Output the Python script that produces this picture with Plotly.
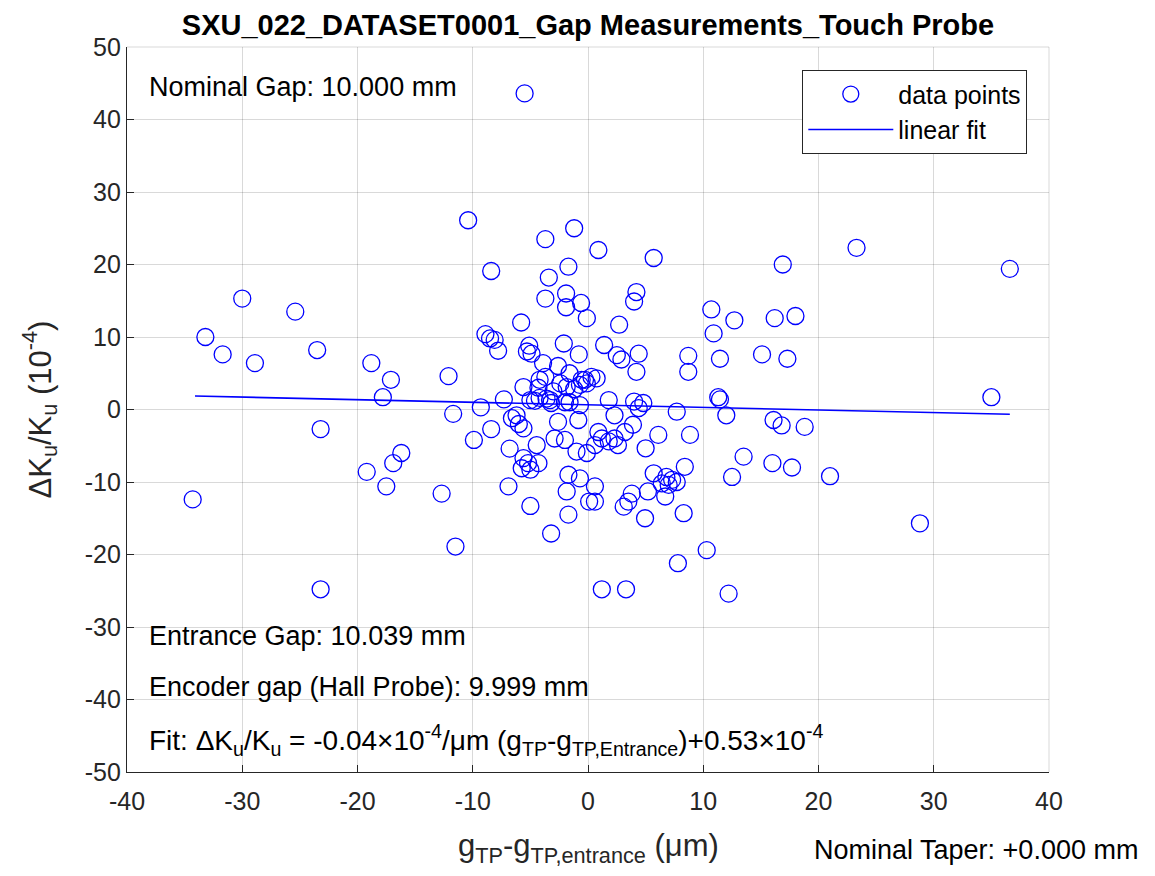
import plotly.graph_objects as go

# data points (x: g_TP - g_TP,entrance in um ; y: dK/K in 1e-4)
x_vals = [-34.3, -33.2, -31.7, -30.0, -28.9, -25.4, -23.5, -23.2, -23.2, -18.8,
          -19.2, -17.8, -17.5, -17.1, -16.9, -16.2, -12.7, -12.1, -11.7, -11.5,
          -10.4, -9.9, -9.3, -8.9, -8.5, -8.1, -7.8, -8.4, -8.4, -7.3,
          -6.8, -6.9, -6.6, -6.2, -6.0, -5.6, -5.5, -5.8, -5.6, -5.1,
          -5.3, -4.9, -5.6, -5.2, -4.3, -5.75, -5.0, -5.0, -4.45, -3.7,
          -3.4, -3.7, -3.9, -3.2, -1.2, -1.7, -1.9, -1.9, -0.6, -0.1,
          -2.1, -0.8, -2.6, -1.6, -0.55, -0.1, 0.3, 0.75, -2.6, -0.84,
          -2.9, -2.0, -1.0, -0.1, -1.7, -0.7, -1.85, 0.1, -1.7, 0.9,
          1.4, 2.5, 2.9, 4.4, 4.2, 2.7, 4.2, 4.0, 5.7, 1.8,
          4.0, 4.8, 4.4, 2.3, 6.1, 5.0, 3.9, 3.2, 0.9, 1.2,
          1.8, 2.3, 2.6, 0.6, 8.85, 8.4, 5.7, 6.8, 7.3, 7.7,
          6.4, 7.0, 5.2, 3.8, 3.5, 3.1, 6.7, 0.6, 0.6, 4.95,
          8.3, 10.3, 7.8, 1.2, 3.3, 12.2, 12.5, 13.5, 7.7, 8.7,
          8.7, 10.7, 10.9, 12.7, 11.45, 11.3, 11.45, 12.0, 15.1, 16.2,
          18.0, 17.3, 16.9, 16.1, 16.8, 18.8, 16.0, 17.7, 21.0, 23.3,
          28.8, 35.0, 36.6, -4.3, -3.6, -3.0, -2.4, -1.2, -3.7, -4.6,
          -2.0, -3.2, -4.2, -1.85, -0.7, -0.26, -5.0, -4.2, -3.3, -1.6,
          -0.7]
y_vals = [-12.4, 10.0, 7.6, 15.3, 6.4, 13.5, 8.2, -2.7, -24.8, 6.4,
          -8.6, 1.7, -10.6, 4.1, -7.4, -6.0, -11.6, 4.6, -0.6, -18.9,
          26.1, -4.2, 0.3, 10.4, 9.8, 9.6, 8.1, 19.1, -2.7, 1.4,
          -5.4, -10.6, -1.2, -0.8, -2.0, -2.6, 43.6, 12.0, 3.1, 8.8,
          8.0, 7.7, -6.7, -7.4, -7.4, -8.1, -8.3, -13.3, -4.9, 23.5,
          18.2, 15.3, 6.4, -17.1, 25.0, 19.7, 16.0, 14.1, 14.7, 12.6,
          9.1, 7.6, 6.0, 5.0, 4.1, 3.6, 4.5, 4.3, -1.7, -1.45,
          -4.0, -4.2, -5.8, -6.0, -9.0, -9.5, -11.3, -12.7, -14.5, 22.0,
          8.9, 7.5, 6.9, 7.7, 5.2, 11.7, 16.2, 14.9, 20.9, 1.3,
          1.1, 0.9, 0.2, -0.8, -3.5, -5.35, -2.1, -3.1, -3.1, -4.0,
          -4.4, -4.0, -4.9, -4.9, -3.5, -7.9, -8.8, -9.3, -9.7, -10.0,
          -10.2, -10.4, -11.3, -11.6, -12.7, -13.4, -12.0, -10.6, -12.7, -15.0,
          -14.3, -19.4, -21.2, -24.8, -24.8, -25.4, -9.3, -6.5, -0.3, 7.4,
          5.2, 13.8, 10.5, 12.3, 7.0, 1.7, 1.4, -0.8, 7.6, 12.6,
          12.9, 7.0, 20.0, -1.45, -2.2, -2.4, -7.4, -8.0, -9.2, 22.3,
          -15.7, 1.7, 19.4, 3.0, 1.5, 2.5, 3.6, 2.8, 4.5, 1.2,
          1.0, 0.9, 4.1, 3.1, 3.4, 4.1, 1.3, 1.6, 1.3, 1.0,
          0.6]

# linear fit line end points
fit_x = [-34.1, 36.6]
fit_y = [1.86, -0.66]

x_ticks = [-40, -30, -20, -10, 0, 10, 20, 30, 40]
x_tick_labels = ["-40", "-30", "-20", "-10", "0", "10", "20", "30", "40"]
y_ticks = [-50, -40, -30, -20, -10, 0, 10, 20, 30, 40, 50]
y_tick_labels = ["-50", "-40", "-30", "-20", "-10", "0", "10", "20", "30", "40", "50"]

FONT = "Liberation Sans, Arial, Helvetica, sans-serif"
TXT = "#262626"

W, H = 1147, 868          # page body has an 8px margin
L, T = 119, 39
PW, PH = 922, 725
R, B = W - L - PW, H - T - PH

fig = go.Figure()
fig.add_trace(go.Scatter(
    x=x_vals, y=y_vals, mode="markers", name="data points",
    legendgroup="a",
    marker=dict(symbol="circle-open", size=17, color="#0000ff",
                line=dict(width=1.3, color="#0000ff")),
))
fig.add_trace(go.Scatter(
    x=fit_x, y=fit_y, mode="lines", name="linear fit",
    legendgroup="b",
    line=dict(color="#0000ff", width=1.6),
))

fig.update_layout(
    width=W, height=H,
    paper_bgcolor="white", plot_bgcolor="white",
    font=dict(family=FONT, color=TXT, size=17),
    margin=dict(l=L, r=R, t=T, b=B, autoexpand=False),
    title=dict(text="<b>SXU_022_DATASET0001_Gap Measurements_Touch Probe</b>",
               x=(L + PW / 2) / W, xanchor="center",
               y=1 - 17 / H, yanchor="middle",
               font=dict(size=29, color="#000000", family=FONT)),
    xaxis=dict(range=[-40, 40], tickvals=x_ticks, ticktext=x_tick_labels,
               ticks="inside", ticklen=7, automargin=False,
               ticklabelstandoff=7,
               tickcolor=TXT, showline=True, linecolor=TXT, linewidth=1.3,
               showgrid=True, gridcolor="rgba(0,0,0,0.15)", gridwidth=1,
               zeroline=False, tickfont=dict(size=25, color=TXT)),
    yaxis=dict(range=[-50, 50], tickvals=y_ticks, ticktext=y_tick_labels,
               ticks="inside", ticklen=7, automargin=False,
               tickcolor=TXT, showline=True, linecolor=TXT, linewidth=1.3,
               showgrid=True, gridcolor="rgba(0,0,0,0.15)", gridwidth=1,
               zeroline=False, tickfont=dict(size=25, color=TXT)),
    legend=dict(x=(1027 - 127) / PW, xanchor="right",
                y=(772 - 70) / PH, yanchor="top",
                bgcolor="white", bordercolor="#262626", borderwidth=1.3,
                font=dict(size=25, color="#000000"),
                itemwidth=85,
                traceorder="grouped", tracegroupgap=0),
)

# frame lines on top and right (light, like the grid)
fig.add_shape(type="line", xref="paper", yref="paper", x0=0, x1=1, y0=1, y1=1,
              line=dict(color="rgba(0,0,0,0.15)", width=1))
fig.add_shape(type="line", xref="paper", yref="paper", x0=1, x1=1, y0=0, y1=1,
              line=dict(color="rgba(0,0,0,0.15)", width=1))

# axis titles
fig.add_annotation(text="ΔK<sub>u</sub>/K<sub>u</sub> (10<sup>-4</sup>)",
                   xref="paper", yref="paper", x=(40 - 127) / PW, y=0.5,
                   xanchor="center", yanchor="middle", textangle=-90,
                   showarrow=False, font=dict(size=31, color=TXT))
fig.add_annotation(text="g<sub>TP</sub>-g<sub>TP,entrance</sub> (μm)",
                   xref="paper", yref="paper", x=0.5, y=(772 - 848) / PH,
                   xanchor="center", yanchor="middle",
                   showarrow=False, font=dict(size=31, color=TXT))

notes = [
    ("Nominal Gap: 10.000 mm", 87, 27),
    ("Entrance Gap: 10.039 mm", 636, 27),
    ("Encoder gap (Hall Probe): 9.999 mm", 687, 27),
    ("Fit: ΔK<sub>u</sub>/K<sub>u</sub> = -0.04×10<sup>-4</sup>/μm "
     "(g<sub>TP</sub>-g<sub>TP,Entrance</sub>)+0.53×10<sup>-4</sup>", 740, 28),
]
for text, py, fs in notes:
    fig.add_annotation(text=text, xref="paper", yref="paper",
                       x=(147 - 127) / PW, xanchor="left",
                       y=(772 - py) / PH, yanchor="middle",
                       showarrow=False, font=dict(size=fs, color="#000000"))

fig.add_annotation(text="Nominal Taper: +0.000 mm", xref="paper", yref="paper",
                   x=(1140 - 127) / PW, xanchor="right",
                   y=(772 - 850) / PH, yanchor="middle",
                   showarrow=False, font=dict(size=27, color="#000000"))

fig.write_html("out.html")
